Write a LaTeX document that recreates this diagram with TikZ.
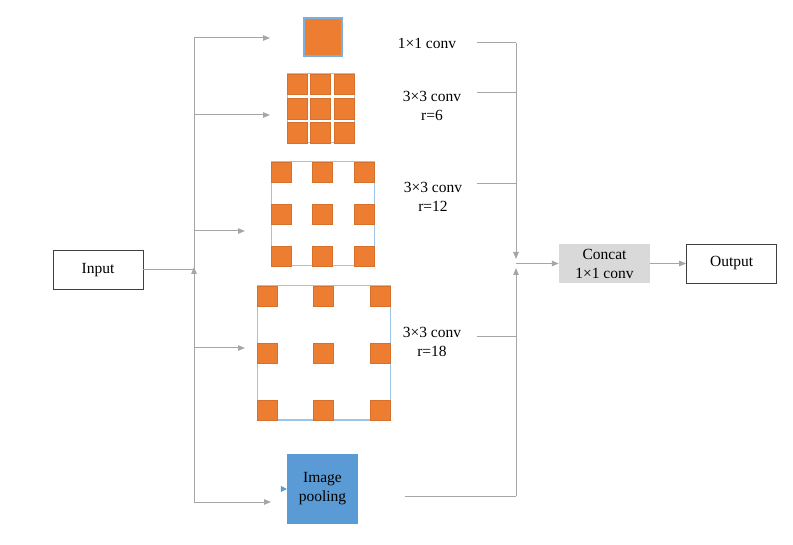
\documentclass[tikz,border=0pt]{standalone}
\usepackage{fontspec}
\setmainfont{Liberation Serif}
\usepackage{tikz}
\usetikzlibrary{positioning, arrows.meta}

\definecolor{cellorange}{HTML}{ED7D31}
\definecolor{poolblue}{HTML}{5B9BD5}
\definecolor{frameblue}{HTML}{9DC3E6}
\definecolor{linkgray}{HTML}{A6A6A6}
\definecolor{concatgray}{HTML}{D9D9D9}

\tikzset{
  txt/.style={font=\fontsize{15.5}{19}\selectfont, align=center},
  plainbox/.style={txt, draw=black!75, line width=0.8pt, minimum width=90pt, minimum height=39pt, inner sep=0pt},
  concatbox/.style={txt, fill=concatgray, minimum width=91pt, minimum height=39pt, inner sep=0pt},
  poolbox/.style={txt, fill=poolblue, minimum width=71pt, minimum height=70pt, inner sep=0pt},
  cell/.style={fill=cellorange, draw=cellorange!90!black, line width=0.3pt, minimum size=20pt, inner sep=0pt},
  frame/.style={draw=frameblue, line width=1pt, fill=white, inner sep=0pt},
  link/.style={draw=linkgray, line width=1pt},
  tip/.style={link, -{Triangle[length=7pt,width=5.5pt]}},
}

\begin{document}
\begin{tikzpicture}[x=1pt,y=-1pt]
  \useasboundingbox (0,0) rectangle (793,545);

  % boxes
  \node[plainbox] (input) at (98,270) {Input};
  \node[concatbox] (concat) at (604.5,263.5) {Concat\\1×1 conv};
  \node[plainbox, right=36pt of concat] (output) {Output};
  \node[poolbox] (pool) at (322.5,489) {Image\\pooling};

  % 1x1 conv
  \node[cell, draw=poolblue!80, line width=1.2pt, minimum size=38pt] (c1) at (323,37) {};

  % r=6
  \node[frame, minimum width=67pt, minimum height=69pt] (f6) at (320.5,108.5) {};
  \foreach \i in {0,1,2}
    \foreach \j in {0,1,2}
      \node[cell, minimum width=20pt, minimum height=20.5pt] (r6-\i\j) at ({297+23.5*\i},{84.3+24.2*\j}) {};

  % r=12
  \node[frame, minimum width=103pt, minimum height=104pt] (f12) at (322.5,214) {};
  \foreach \i in {0,1,2}
    \foreach \j in {0,1,2}
      \node[cell] (r12-\i\j) at ({281+41.5*\i},{172+42*\j}) {};

  % r=18
  \node[frame, minimum width=133pt, minimum height=134pt] (f18) at (323.5,353) {};
  \foreach \i in {0,1,2}
    \foreach \j in {0,1,2}
      \node[cell] (r18-\i\j) at ({267+56.5*\i},{296+57*\j}) {};

  % labels
  \node[txt] (l1) at (427,43) {1×1 conv};
  \node[txt] (l6) at (432,106) {3×3 conv\\r=6};
  \node[txt] (l12) at (433,197) {3×3 conv\\r=12};
  \node[txt] (l18) at (432,342) {3×3 conv\\r=18};

  % left bus
  \coordinate (lt) at (194,38);
  \coordinate (lb) at (194,502);
  \coordinate (lin) at (194,270);
  \coordinate (a1) at (270,38);
  \coordinate (a2) at (194,115);
  \coordinate (e2) at (270,115);
  \coordinate (a3) at (194,231);
  \coordinate (e3) at (245,231);
  \coordinate (a4) at (194,348);
  \coordinate (e4) at (245,348);
  \coordinate (a5) at (271,502);
  \draw[link] (input.east) -- (lin);
  \draw[link] (lt) -- (lb);
  \draw[tip] (194,285) -- (194,267);
  \draw[tip] (lt) -- (a1);
  \draw[tip] (a2) -- (e2);
  \draw[tip] (a3) -- (e3);
  \draw[tip] (a4) -- (e4);
  \draw[tip] (lb) -- (a5);
  \draw[-{Triangle[length=6pt,width=6pt]}, draw=poolblue, fill=poolblue, line width=0.6pt] ([xshift=-6pt]pool.west) -- (pool.west);

  % right bus
  \coordinate (o1) at (477,43);
  \coordinate (rt) at (516,43);
  \coordinate (o2) at (477,93);
  \coordinate (r2) at (516,93);
  \coordinate (o3) at (477,184);
  \coordinate (r3) at (516,184);
  \coordinate (o4) at (477,337);
  \coordinate (r4) at (516,337);
  \coordinate (po) at (405,496);
  \coordinate (rb) at (516,496);
  \coordinate (rm) at (516,263.5);
  \draw[link] (o1) -- (rt);
  \draw[link] (o2) -- (r2);
  \draw[link] (o3) -- (r3);
  \draw[link] (o4) -- (r4);
  \draw[link] (po) -- (rb);
  \draw[tip] (rt) -- (516,259);
  \draw[tip] (rb) -- (516,268);
  \draw[tip] (rm) -- (concat.west);
  \draw[tip] (concat.east) -- (output.west);
\end{tikzpicture}
\end{document}
